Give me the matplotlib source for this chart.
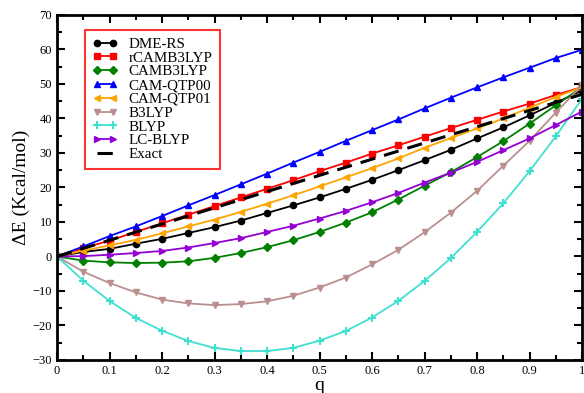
import matplotlib
matplotlib.use("Agg")
import matplotlib.pyplot as plt
from matplotlib.ticker import MultipleLocator

q = [0.0, 0.05, 0.1, 0.15, 0.2, 0.25, 0.3, 0.35, 0.4, 0.45, 0.5,
     0.55, 0.6, 0.65, 0.7, 0.75, 0.8, 0.85, 0.9, 0.95, 1.0]

dme_rs = [0.0, 1.3, 2.2, 3.7, 5.1, 6.8, 8.5, 10.4, 12.6, 14.8, 17.1,
          19.6, 22.2, 25.0, 27.9, 30.9, 34.2, 37.4, 40.9, 44.5, 48.1]
rcamb3lyp = [0.0, 2.4, 4.6, 7.1, 9.6, 12.1, 14.6, 17.1, 19.6, 22.1, 24.7,
             27.2, 29.8, 32.2, 34.7, 37.2, 39.6, 42.0, 44.3, 46.8, 49.1]
camb3lyp = [0.0, -1.2, -1.7, -1.9, -1.8, -1.4, -0.4, 1.0, 2.7, 4.7, 7.1,
            9.8, 12.8, 16.5, 20.5, 24.4, 28.8, 33.4, 38.5, 43.8, 49.1]
cam_qtp00 = [0.0, 2.9, 5.9, 8.7, 11.7, 14.8, 17.8, 20.9, 24.0, 27.2, 30.3,
             33.5, 36.6, 39.7, 42.9, 46.0, 49.0, 51.9, 54.7, 57.5, 59.9]
cam_qtp01 = [0.0, 1.7, 3.2, 4.8, 6.7, 8.7, 10.7, 12.9, 15.3, 17.7, 20.3,
             22.9, 25.6, 28.4, 31.5, 34.3, 37.1, 40.0, 43.1, 46.2, 49.1]
b3lyp = [0.0, -4.4, -7.7, -10.4, -12.5, -13.6, -14.1, -13.8, -13.0, -11.4, -9.0,
         -6.1, -2.3, 1.9, 7.0, 12.7, 19.0, 26.3, 33.5, 41.7, 49.6]
blyp = [0.0, -7.0, -12.9, -17.8, -21.5, -24.5, -26.5, -27.4, -27.4, -26.5, -24.4,
        -21.6, -17.7, -12.9, -7.1, -0.5, 7.1, 15.4, 24.7, 34.8, 45.7]
lc_blyp = [0.0, 0.1, 0.5, 1.0, 1.6, 2.6, 3.9, 5.3, 7.1, 8.9, 11.0,
           13.2, 15.7, 18.4, 21.4, 24.3, 27.4, 30.8, 34.2, 38.1, 42.0]
exact_q = [0.0, 1.0]
exact = [0.0, 47.0]

plt.rcParams['font.family'] = ['Liberation Serif', 'DejaVu Serif']

fig = plt.figure(figsize=(5.84, 3.93), dpi=100)
ax = fig.add_axes([0.0976, 0.084, 0.899, 0.878])

ms = 4.5
lw = 1.3
ax.plot(q, dme_rs, color='black', marker='o', ms=ms, lw=lw, label='DME-RS')
ax.plot(q, rcamb3lyp, color='red', marker='s', ms=ms, lw=lw, label='rCAMB3LYP')
ax.plot(q, camb3lyp, color='green', marker='D', ms=ms - 0.5, lw=lw, label='CAMB3LYP')
ax.plot(q, cam_qtp00, color='blue', marker='^', ms=ms + 0.5, lw=lw, label='CAM-QTP00')
ax.plot(q, cam_qtp01, color='orange', marker='<', ms=ms + 0.5, lw=lw, label='CAM-QTP01')
ax.plot(q, b3lyp, color='rosybrown', marker='v', ms=ms + 0.5, lw=lw, label='B3LYP')
ax.plot(q, blyp, color='turquoise', marker='+', ms=ms + 1, mew=1.5, lw=lw, label='BLYP')
ax.plot(q, lc_blyp, color='darkviolet', marker='>', ms=ms + 0.5, lw=lw, label='LC-BLYP')
ax.plot(exact_q, exact, color='black', ls=(0, (5, 3)), lw=2.2, label='Exact')

ax.set_xlim(0, 1)
ax.set_ylim(-30, 70)
ax.xaxis.set_major_locator(MultipleLocator(0.1))
ax.xaxis.set_minor_locator(MultipleLocator(0.05))
ax.yaxis.set_major_locator(MultipleLocator(10))
ax.yaxis.set_minor_locator(MultipleLocator(5))
ax.set_xticks([0, 0.1, 0.2, 0.3, 0.4, 0.5, 0.6, 0.7, 0.8, 0.9, 1.0])
ax.set_xticklabels(['0', '0.1', '0.2', '0.3', '0.4', '0.5', '0.6', '0.7', '0.8', '0.9', '1'])
ax.tick_params(which='both', direction='in', top=True, right=True, width=1.5, labelsize=9)
ax.tick_params(which='major', length=6)
ax.tick_params(which='minor', length=3.5)
for s in ax.spines.values():
    s.set_linewidth(2)

ax.set_xlabel('q', fontsize=14, labelpad=0)
ax.set_ylabel('ΔE (Kcal/mol)', fontsize=14, labelpad=2)

leg = ax.legend(loc='upper left', bbox_to_anchor=(0.053, 0.957), borderaxespad=0,
                numpoints=2, fancybox=False, frameon=True, fontsize=10.8,
                handlelength=1.7, labelspacing=0.02, borderpad=0.5,
                handletextpad=0.7)
leg.get_frame().set_edgecolor('red')
leg.get_frame().set_linewidth(1.5)

fig.savefig('out.png', dpi=100)
